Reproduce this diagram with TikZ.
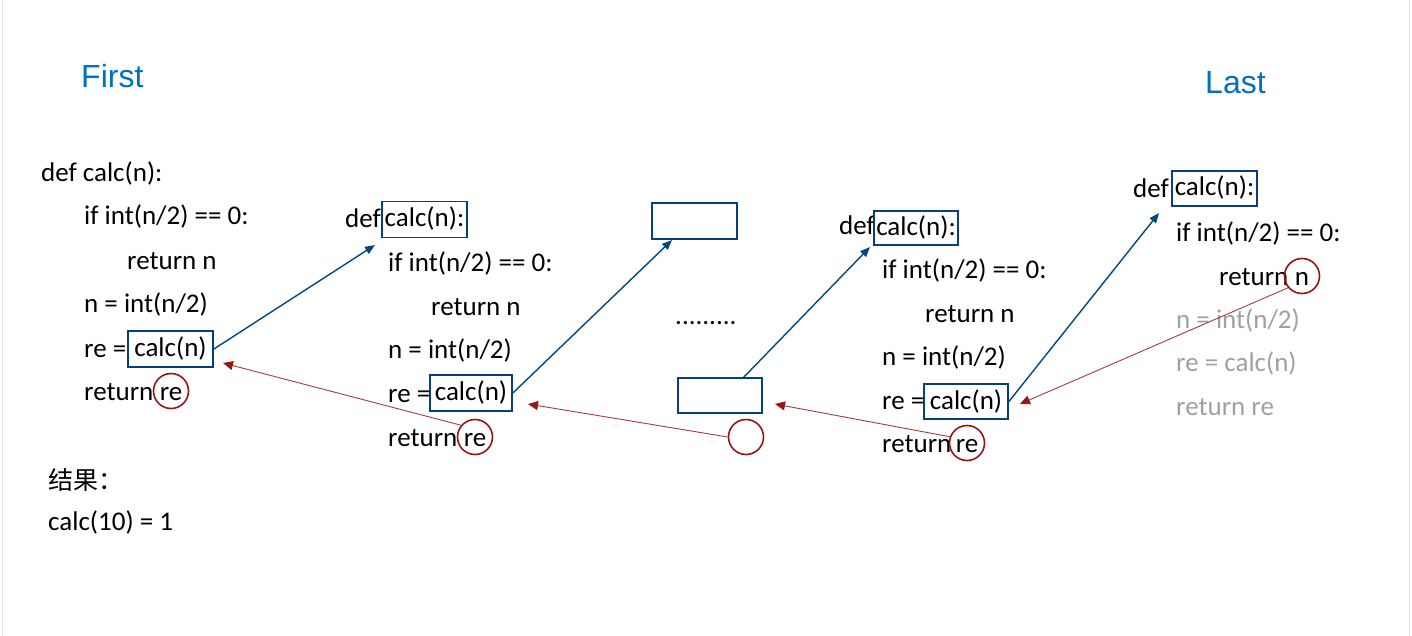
\documentclass[tikz,border=0pt]{standalone}
\usepackage{fontspec}
\setmainfont{Carlito}
\newfontfamily\headfont{Liberation Sans}
\newfontfamily\cjkfont{Noto Sans CJK SC}
\usetikzlibrary{arrows.meta}
\definecolor{boxblue}{RGB}{10,60,130}
\definecolor{arrblue}{RGB}{0,72,130}
\definecolor{circred}{RGB}{150,22,22}
\definecolor{linered}{RGB}{165,60,60}
\definecolor{headblue}{RGB}{0,112,192}
\definecolor{greytext}{RGB}{160,160,160}
\begin{document}
\begin{tikzpicture}[x=1pt,y=-1pt,
  code/.style={anchor=west,inner sep=0pt,font=\fontsize{27}{31}\selectfont,text height=19pt,text depth=0pt},
  greycode/.style={code,text=greytext},
  callbox/.style={draw=boxblue,line width=1.8pt,inner sep=0pt,font=\fontsize{27}{31}\selectfont,text height=15pt,text depth=0pt,minimum width=85pt,minimum height=36pt},
  retcirc/.style={circle,draw=circred,line width=1.6pt,inner sep=0pt,minimum size=35pt,font=\fontsize{27}{31}\selectfont,text height=19pt,text depth=0pt},
  callarrow/.style={draw=arrblue,line width=1.4pt,-{Triangle[length=10pt,width=8pt]}},
  retarrow/.style={draw=linered,line width=0.9pt,-{Triangle[length=10pt,width=9pt,color=circred]}},
  head/.style={anchor=west,inner sep=0pt,font=\headfont\fontsize{32}{36}\selectfont,text=headblue}
]
\useasboundingbox (0,0) rectangle (1412,636);
\draw[black!12,line width=1pt] (2,0) -- (2,636);
\draw[black!12,line width=1pt] (1409,0) -- (1409,636);

% headings
\node[head] (first) at (81,76) {First};
\node[head] (last) at (1205,83) {Last};

% block 1
\node[code] (a1) at (41,172) {def calc(n):};
\node[code] (a2) at (84,215) {if int(n/2) == 0:};
\node[code] (a3) at (127,260) {return n};
\node[code] (a4) at (84,303) {n = int(n/2)};
\node[code] (a5) at (84,348) {re =};
\node[callbox] (a5b) at (170.5,349) {calc(n)};
\node[code] (a6) at (84,391) {return};
\node[retcirc] (a6c) at (171,391) {re};

% block 2
\node[code] (b1) at (345,218) {def};
\node[callbox] (b1b) at (424.5,219.5) {calc(n):};
\node[code] (b2) at (388,262) {if int(n/2) == 0:};
\node[code] (b3) at (431,306) {return n};
\node[code] (b4) at (388,349) {n = int(n/2)};
\node[code] (b5) at (388,393) {re =};
\node[callbox,minimum width=82pt] (b5b) at (471,393) {calc(n)};
\node[code] (b6) at (388,437) {return};
\node[retcirc] (b6c) at (475,437) {re};

% middle
\node[callbox] (mtop) at (694.5,221) {};
\node[code] (dots) at (675,315) {.........};
\node[callbox,minimum width=84pt,minimum height=35pt] (mbot) at (720,395.5) {};
\node[retcirc] (mc) at (746,437) {};

% block 4
\node[code] (d1) at (839,225) {def};
\node[callbox,minimum width=84pt,minimum height=34pt] (d1b) at (916,228) {calc(n):};
\node[code] (d2) at (882,269) {if int(n/2) == 0:};
\node[code] (d3) at (925,313) {return n};
\node[code] (d4) at (882,356) {n = int(n/2)};
\node[code] (d5) at (882,400) {re =};
\node[callbox,minimum width=84pt,minimum height=35pt] (d5b) at (966,401.5) {calc(n)};
\node[code] (d6) at (882,443) {return};
\node[retcirc] (d6c) at (967,443) {re};

% block 5
\node[code] (e1) at (1133,188) {def};
\node[callbox,minimum height=35pt] (e1b) at (1214.5,188.5) {calc(n):};
\node[code] (e2) at (1176,232) {if int(n/2) == 0:};
\node[code] (e3) at (1219,276) {return};
\node[retcirc] (e3c) at (1302,276) {n};
\node[greycode] (e4) at (1176,319) {n = int(n/2)};
\node[greycode] (e5) at (1176,362) {re = calc(n)};
\node[greycode] (e6) at (1176,406) {return re};

% result
\node[anchor=west,inner sep=0pt,font=\cjkfont\fontsize{25}{29}\selectfont] (res) at (48,480) {结果：};
\node[code] (resv) at (48,521) {calc(10) = 1};

% arrow tips
\coordinate (t1) at (375,245);
\coordinate (t2) at (672,240);
\coordinate (t3) at (870,247);
\coordinate (t4) at (1159,213);
\coordinate (r1) at (1020,404);
\coordinate (r2) at (775,404);
\coordinate (r3) at (528,404);
\coordinate (r4) at (223,363);
\coordinate (m1) at (743,378);

% call arrows
\draw[callarrow] (a5b.east) -- (t1);
\draw[callarrow] (b5b.east) -- (t2);
\draw[callarrow] (m1) -- (t3);
\draw[callarrow] (d5b.east) -- (t4);

% return arrows
\draw[retarrow] (e3c.220) -- (r1);
\draw[retarrow] (d6c.160) -- (r2);
\draw[retarrow] (mc.west) -- (r3);
\draw[retarrow] (b6c.140) -- (r4);
\end{tikzpicture}
\end{document}
